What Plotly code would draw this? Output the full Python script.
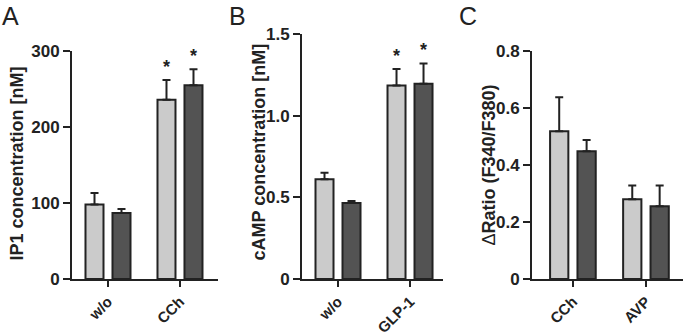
import plotly.graph_objects as go

# ---------------- data ----------------
cats_a = ["w/o", "CCh"]
light_a = [98, 236]
light_a_err = [15, 26]
dark_a = [87, 255]
dark_a_err = [5, 21]
sig_a_light = [False, True]
sig_a_dark = [False, True]

cats_b = ["w/o", "GLP-1"]
light_b = [0.61, 1.185]
light_b_err = [0.04, 0.10]
dark_b = [0.465, 1.195]
dark_b_err = [0.012, 0.125]
sig_b_light = [False, True]
sig_b_dark = [False, True]

cats_c = ["CCh", "AVP"]
light_c = [0.518, 0.28]
light_c_err = [0.12, 0.048]
dark_c = [0.448, 0.255]
dark_c_err = [0.04, 0.073]

yticks_a = [0, 100, 200, 300]
yticks_b = [0, 0.5, 1.0, 1.5]
yticks_c = [0, 0.2, 0.4, 0.6, 0.8]
yticktext_a = ["0", "100", "200", "300"]
yticktext_b = ["0", "0.5", "1.0", "1.5"]
yticktext_c = ["0", "0.2", "0.4", "0.6", "0.8"]

title_a = "<b>IP1 concentration [nM]</b>"
title_b = "<b>cAMP concentration [nM]</b>"
title_c = "Δ<b>Ratio (F340/F380)</b>"

# ---------------- style ----------------
LIGHT = "#cbcbcb"
DARK = "#535353"
INK = "#222222"
FONT = "Liberation Sans"
BARGAP = 0.25
GROUPGAP = 0.333
OFFSET = (1 - BARGAP) / 4  # centre offset of each bar in a 2-bar group
W, H = 685, 335

fig = go.Figure()

panels = [
    ("x", "y", cats_a, light_a, light_a_err, dark_a, dark_a_err),
    ("x2", "y2", cats_b, light_b, light_b_err, dark_b, dark_b_err),
    ("x3", "y3", cats_c, light_c, light_c_err, dark_c, dark_c_err),
]

for xa, ya, cats, lv, le, dv, de in panels:
    for vals, errs, col in ((lv, le, LIGHT), (dv, de, DARK)):
        fig.add_trace(go.Bar(
            x=cats, y=vals, xaxis=xa, yaxis=ya,
            marker=dict(color=col, line=dict(color=INK, width=2)),
            error_y=dict(type="data", array=errs, arrayminus=[0] * len(errs),
                         symmetric=False, color=INK, thickness=2, width=4),
            showlegend=False,
        ))

annotations = []
# significance asterisks
for xr, yr, vals_errs_sigs in (
    ("x", "y", [(light_a, light_a_err, sig_a_light, -1), (dark_a, dark_a_err, sig_a_dark, 1)]),
    ("x2", "y2", [(light_b, light_b_err, sig_b_light, -1), (dark_b, dark_b_err, sig_b_dark, 1)]),
):
    for vals, errs, sigs, side in vals_errs_sigs:
        for i, (v, e, s) in enumerate(zip(vals, errs, sigs)):
            if s:
                annotations.append(dict(
                    x=i + side * OFFSET, y=v + e, xref=xr, yref=yr,
                    text="<b>*</b>", showarrow=False, yanchor="middle",
                    yshift=13, font=dict(family=FONT, size=18, color=INK)))

# panel letters
for letter, px in (("A", 0.0), ("B", 0.331), ("C", 0.667)):
    annotations.append(dict(
        x=px, y=1.0, xref="paper", yref="paper", text=letter, showarrow=False,
        xanchor="left", yanchor="top", font=dict(family=FONT, size=25, color=INK)))

# y-axis titles (placed as rotated annotations)
for text, cx, cy in ((title_a, 16.5, 164), (title_b, 258, 152.5), (title_c, 488.5, 165)):
    annotations.append(dict(
        x=cx / W, y=1 - cy / H, xref="paper", yref="paper", text=text,
        showarrow=False, textangle=-90, xanchor="center", yanchor="middle",
        font=dict(family=FONT, size=18, color=INK)))

base = (H - 279) / H

def xax(dom, rng):
    return dict(domain=dom, range=rng, showline=True, linewidth=2, linecolor=INK,
                ticks="outside", ticklen=6, tickwidth=2, tickcolor=INK,
                tickangle=-45, showgrid=False, zeroline=False, automargin=False,
                tickfont=dict(family=FONT, size=15, color=INK, weight="bold"))

def yax(dom, rng, vals, text, anchor):
    return dict(domain=dom, range=rng, anchor=anchor, showline=True, linewidth=2,
                linecolor=INK, ticks="outside", ticklen=7, tickwidth=2, tickcolor=INK,
                tickvals=vals, ticktext=text, showgrid=False, zeroline=False,
                automargin=False,
                tickfont=dict(family=FONT, size=17, color=INK, weight="bold"))

fig.update_layout(
    width=W, height=H,
    margin=dict(l=0, r=0, t=0, b=0, autoexpand=False),
    paper_bgcolor="white", plot_bgcolor="white",
    barmode="group", bargap=BARGAP, bargroupgap=GROUPGAP,
    showlegend=False,
    xaxis=xax([72 / W, 218 / W], [-0.5, 1.528]),
    xaxis2=dict(xax([302 / W, 443 / W], [-0.5, 1.458]), anchor="y2"),
    xaxis3=dict(xax([532 / W, 683 / W], [-0.56, 1.507]), anchor="y3"),
    yaxis=yax([base, (H - 51) / H], [0, 300], yticks_a, yticktext_a, "x"),
    yaxis2=yax([base, (H - 34) / H], [0, 1.5], yticks_b, yticktext_b, "x2"),
    yaxis3=yax([base, (H - 51) / H], [0, 0.8], yticks_c, yticktext_c, "x3"),
    annotations=annotations,
)

fig.write_html("out.html", config={"displayModeBar": False},
               post_script="document.body.style.margin='0px';")
